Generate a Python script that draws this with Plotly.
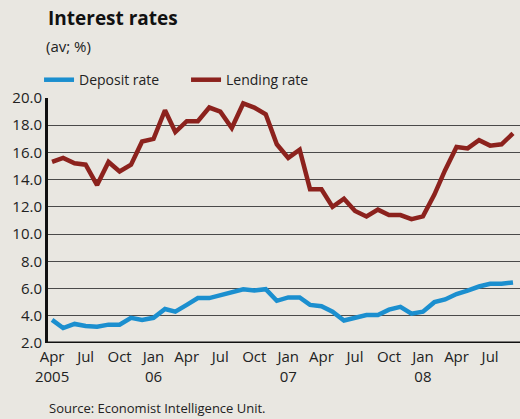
import plotly.graph_objects as go
import pandas as pd

months = pd.date_range("2005-04-01", "2008-09-01", freq="MS")

deposit_rate = [3.7, 3.1, 3.4, 3.25, 3.2, 3.35, 3.35, 3.85, 3.7,
                3.85, 4.5, 4.3, 4.8, 5.3, 5.3, 5.5, 5.7, 5.95, 5.85, 5.95, 5.1,
                5.35, 5.35, 4.8, 4.7, 4.3, 3.65, 3.85, 4.05, 4.05, 4.45, 4.65, 4.15,
                4.3, 5.0, 5.2, 5.6, 5.85, 6.15, 6.35, 6.35, 6.45]

lending_rate = [15.3, 15.6, 15.2, 15.1, 13.6, 15.3, 14.6, 15.1, 16.8,
                17.0, 19.1, 17.5, 18.3, 18.3, 19.3, 19.0, 17.8, 19.6, 19.3, 18.8, 16.6,
                15.6, 16.2, 13.3, 13.3, 12.0, 12.6, 11.7, 11.3, 11.8, 11.4, 11.4, 11.1,
                11.3, 12.9, 14.7, 16.4, 16.3, 16.9, 16.5, 16.6, 17.4]

tick_dates = ["2005-04-01", "2005-07-01", "2005-10-01", "2006-01-01", "2006-04-01",
              "2006-07-01", "2006-10-01", "2007-01-01", "2007-04-01", "2007-07-01",
              "2007-10-01", "2008-01-01", "2008-04-01", "2008-07-01"]
tick_labels = ["Apr<br>2005", "Jul", "Oct", "Jan<br>06", "Apr", "Jul", "Oct",
               "Jan<br>07", "Apr", "Jul", "Oct", "Jan<br>08", "Apr", "Jul"]

y_ticks = [2, 4, 6, 8, 10, 12, 14, 16, 18, 20]

BG = "#e9e7e1"
FONT = "Open Sans"
TXT = "#222222"

fig = go.Figure()
fig.add_trace(go.Scatter(x=months, y=deposit_rate, mode="lines", name="Deposit rate",
                         line=dict(color="#1b8fcf", width=4.5)))
fig.add_trace(go.Scatter(x=months, y=lending_rate, mode="lines", name="Lending rate",
                         line=dict(color="#8c221d", width=4.5)))

fig.update_layout(
    width=520, height=419,
    paper_bgcolor=BG, plot_bgcolor=BG,
    margin=dict(l=48, r=0, t=98, b=76),
    font=dict(family=FONT, color=TXT, size=14),
    showlegend=True,
    legend=dict(orientation="h", x=-0.019, xanchor="left", y=1.073, yanchor="middle",
                bgcolor="rgba(0,0,0,0)", font=dict(size=14, color=TXT),
                itemwidth=30, entrywidth=102, tracegroupgap=0),
)

fig.add_annotation(text="<b>Interest rates</b>", xref="paper", yref="paper",
                   x=-0.004, y=1.325, xanchor="left", yanchor="middle", showarrow=False,
                   font=dict(size=19, color="#111111"))
fig.add_annotation(text="(av; %)", xref="paper", yref="paper",
                   x=-0.008, y=1.214, xanchor="left", yanchor="middle", showarrow=False,
                   font=dict(size=15, color=TXT))
fig.add_annotation(text="Source: Economist Intelligence Unit.", xref="paper", yref="paper",
                   x=-0.002, y=-0.265, xanchor="left", yanchor="middle", showarrow=False,
                   font=dict(size=13, color=TXT))

fig.update_xaxes(range=["2005-03-21", "2008-09-20"], tickvals=tick_dates, ticktext=tick_labels,
                 showgrid=False, zeroline=False, showline=False, ticks="",
                 ticklabelstandoff=3,
                 tickfont=dict(size=15, color=TXT))
fig.update_yaxes(range=[2, 20], tickvals=y_ticks, tickformat=".1f",
                 showgrid=True, gridcolor="#4a4a4a", gridwidth=1,
                 zeroline=False, showline=True, linecolor="#111111", linewidth=3,
                 ticks="", tickfont=dict(size=15, color=TXT))

fig.add_shape(type="line", xref="paper", yref="y", x0=0, x1=1, y0=2, y1=2,
              line=dict(color="#111111", width=3), layer="above")

fig.write_html("out.html",
               config={"displayModeBar": False},
               post_script="document.body.style.margin='0';document.body.style.padding='0';"
                           "document.body.style.overflow='hidden';"
                           "document.body.style.background='" + BG + "';")
